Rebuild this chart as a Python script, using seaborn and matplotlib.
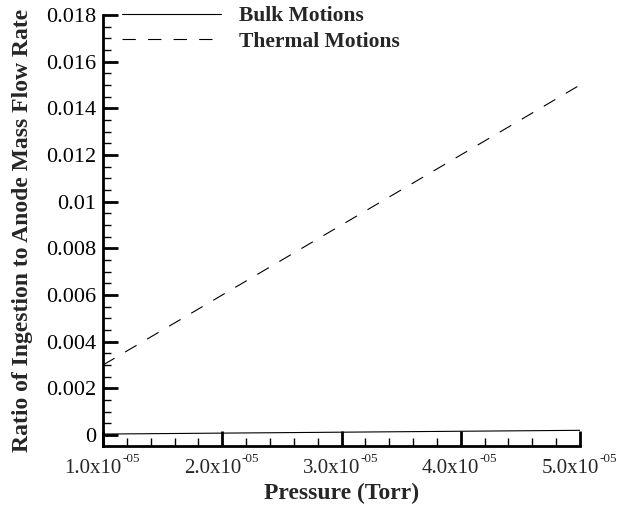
import numpy as np
import pandas as pd
import matplotlib
matplotlib.use("Agg")
import matplotlib.pyplot as plt
import seaborn as sns

# Ingestion ratios versus facility background pressure
pressure = [1e-5, 2e-5, 3e-5, 4e-5, 5e-5]
bulk_motions = [0.00004, 0.00008, 0.00012, 0.00016, 0.00020]
thermal_motions = [0.003, 0.006, 0.009, 0.012, 0.015]

x_ticks = [1e-5, 2e-5, 3e-5, 4e-5, 5e-5]
x_tick_mantissa = ["1.0x10", "2.0x10", "3.0x10", "4.0x10", "5.0x10"]
x_tick_exponent = ["-05", "-05", "-05", "-05", "-05"]
y_ticks = [0, 0.002, 0.004, 0.006, 0.008, 0.01, 0.012, 0.014, 0.016, 0.018]
y_tick_labels = ["0", "0.002", "0.004", "0.006", "0.008", "0.01", "0.012",
                 "0.014", "0.016", "0.018"]

df = pd.DataFrame({
    "Pressure": pressure * 2,
    "Ratio": bulk_motions + thermal_motions,
    "Series": ["Bulk Motions"] * len(pressure) + ["Thermal Motions"] * len(pressure),
})

sns.set_style("ticks")
plt.rcParams["font.family"] = ["Liberation Serif", "DejaVu Serif"]

fig = plt.figure(figsize=(6.18, 5.08), dpi=100)
ax = fig.add_axes([0.1667, 0.1226, 0.7718, 0.8479])

sns.lineplot(data=df, x="Pressure", y="Ratio", hue="Series", style="Series",
             palette=["black", "black"], dashes=[(), (12, 11)], linewidth=0.8,
             ax=ax, legend=True)

ax.set_xlim(1e-5, 5e-5)
ax.set_ylim(-0.00046, 0.018)
ax.set_xticks(x_ticks)
ax.set_xticklabels([])
ax.set_yticks(y_ticks)
ax.set_yticklabels(y_tick_labels)
ax.set_xticks(np.arange(1e-5, 5e-5 + 1e-9, 2e-6), minor=True)
ax.set_yticks(np.arange(0, 0.018 + 1e-9, 0.0005), minor=True)

# x tick labels in "mantissa x 10^exponent" form with a small raised exponent
xaxis_tr = ax.get_xaxis_transform()
for tick, mant, expo in zip(x_ticks, x_tick_mantissa, x_tick_exponent):
    ax.annotate(mant, xy=(tick, 0), xycoords=xaxis_tr, xytext=(13.5, -19.5),
                textcoords="offset points", ha="right", va="baseline",
                fontsize=15, annotation_clip=False)
    ax.annotate(expo, xy=(tick, 0), xycoords=xaxis_tr, xytext=(13.8, -11.8),
                textcoords="offset points", ha="left", va="baseline",
                fontsize=9.5, annotation_clip=False)

ax.tick_params(axis="both", which="major", direction="in", length=11, width=2,
               labelsize=16, colors="black", pad=6)
ax.tick_params(axis="y", which="major", pad=5)
ax.tick_params(axis="both", which="minor", direction="in", length=6, width=1,
               colors="black")

for side in ["top", "right"]:
    ax.spines[side].set_visible(False)
for side in ["left", "bottom"]:
    ax.spines[side].set_linewidth(2)
    ax.spines[side].set_color("black")

ax.set_xlabel("Pressure (Torr)", fontsize=17, fontweight="bold", labelpad=20.5)
ax.set_ylabel("Ratio of Ingestion to Anode Mass Flow Rate", fontsize=17,
              fontweight="bold", labelpad=9)

leg = ax.legend(loc="upper left", bbox_to_anchor=(0.0, 1.065), frameon=False,
                prop={"family": "Liberation Serif", "weight": "bold", "size": 15.5},
                handlelength=4.6, handletextpad=0.8, labelspacing=0.25)

fig.savefig("out.png", dpi=100)
